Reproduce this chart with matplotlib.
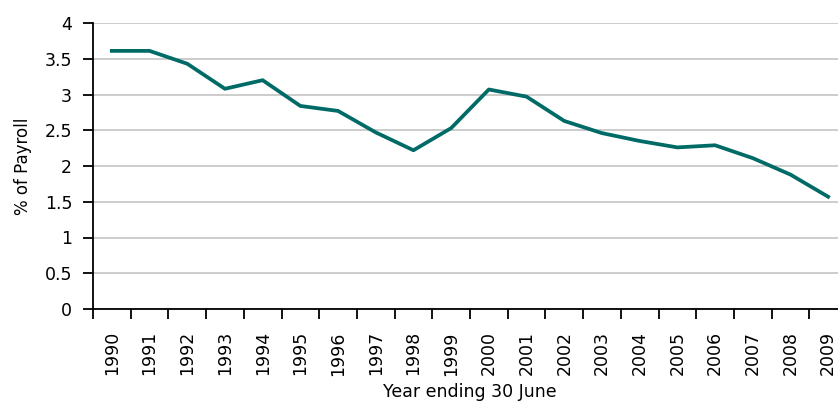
import matplotlib
matplotlib.use("Agg")
import matplotlib.pyplot as plt
import numpy as np

years = [str(y) for y in range(1990, 2010)]
payroll_pct = [3.61, 3.61, 3.43, 3.08, 3.20, 2.84, 2.77, 2.47, 2.22, 2.53,
               3.07, 2.97, 2.63, 2.46, 2.35, 2.26, 2.29, 2.11, 1.88, 1.57]
y_ticks = [0, 0.5, 1, 1.5, 2, 2.5, 3, 3.5, 4]
y_tick_labels = ["0", "0.5", "1", "1.5", "2", "2.5", "3", "3.5", "4"]

fig = plt.figure(figsize=(8.38, 4.03), dpi=100)
ax = fig.add_axes([93 / 838, 94 / 403, 754 / 838, 286 / 403])

x = np.arange(len(years))
ax.plot(x, payroll_pct, color="#006b66", linewidth=2.7, solid_joinstyle="round")

ax.set_xlim(-0.5, len(years) - 0.5)
ax.set_ylim(0, 4)

# y axis
ax.set_yticks(y_ticks)
ax.set_yticklabels(y_tick_labels, fontsize=12.5)
ax.yaxis.grid(True, color="#c8c8c8", linewidth=1.3)
ax.set_axisbelow(True)
ax.tick_params(axis="y", length=7, width=1.3, pad=8)

# x axis: ticks at category boundaries, labels at centres
ax.set_xticks(np.arange(-0.5, len(years) + 0.5, 1))
ax.set_xticklabels([])
ax.set_xticks(x, minor=True)
ax.set_xticklabels(years, minor=True, rotation=90, fontsize=12.5)
ax.tick_params(axis="x", which="major", length=7, width=1.3)
ax.tick_params(axis="x", which="minor", length=0, pad=16)

for s in ["top", "right"]:
    ax.spines[s].set_visible(False)
ax.spines["left"].set_linewidth(1.3)
ax.spines["bottom"].set_linewidth(1.3)

ax.set_ylabel("% of Payroll", fontsize=12, labelpad=9)
ax.set_xlabel("Year ending 30 June", fontsize=12.5, labelpad=5)

fig.savefig("out.png", dpi=100)
